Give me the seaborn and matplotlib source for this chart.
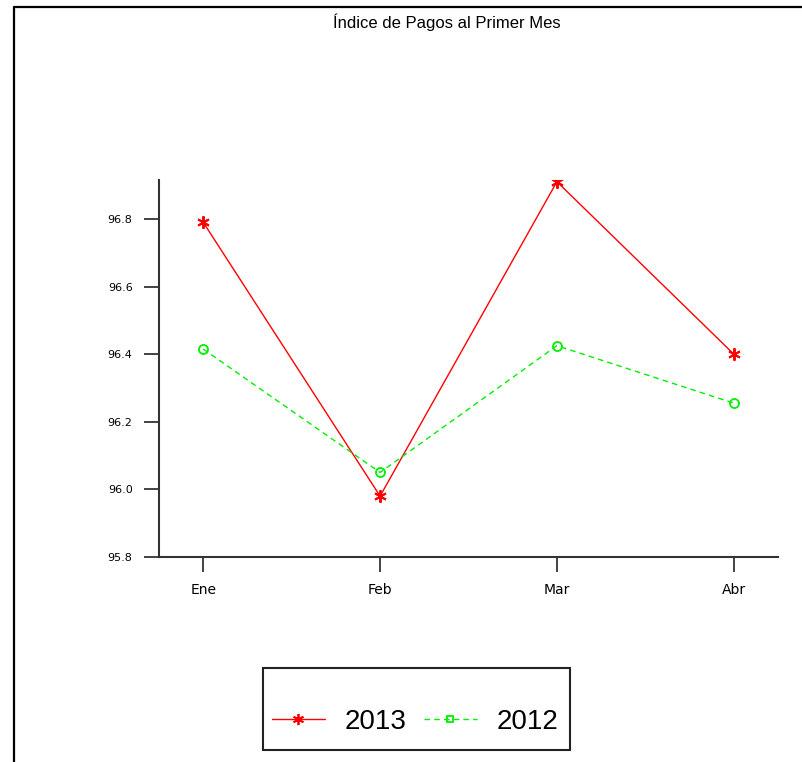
import pandas as pd
import matplotlib.pyplot as plt
import seaborn as sns
from matplotlib.patches import Rectangle
from matplotlib.lines import Line2D

meses = ['Ene', 'Feb', 'Mar', 'Abr']
indice_2013 = [96.79, 95.98, 96.91, 96.40]
indice_2012 = [96.415, 96.05, 96.425, 96.255]
yticks = [95.8, 96.0, 96.2, 96.4, 96.6, 96.8]

df = pd.DataFrame({
    'x': list(range(len(meses))) * 2,
    'indice': indice_2013 + indice_2012,
    'anio': ['2013'] * 4 + ['2012'] * 4,
})

sns.set_style('white')
plt.rcParams['font.family'] = ['DejaVu Sans']
plt.rcParams['text.color'] = 'black'

fig = plt.figure(figsize=(8.03, 7.62), dpi=100)
ax = fig.add_axes([159 / 803, 1 - 557 / 762, (778 - 159) / 803, (557 - 180) / 762])

rojo, verde = '#ff0000', '#00ee00'
sns.lineplot(data=df[df['anio'] == '2013'], x='x', y='indice', color=rojo,
             marker=(6, 2, 0), markersize=9, markeredgecolor=rojo,
             markeredgewidth=1.4, linewidth=1, ax=ax)
sns.lineplot(data=df[df['anio'] == '2012'], x='x', y='indice', color=verde,
             marker='o', markersize=6.5, markerfacecolor='none', markeredgecolor=verde,
             markeredgewidth=1.3, linewidth=1, linestyle=(0, (4, 3)), ax=ax)

ax.set_xlim(-0.25, 3.25)
ax.set_ylim(95.8, 96.915)
ax.set_xticks(range(len(meses)))
ax.set_xticklabels(meses, fontsize=10)
ax.set_yticks(yticks)
ax.set_yticklabels([f'{v:.1f}' for v in yticks], fontsize=8)
ax.set_xlabel('')
ax.set_ylabel('')
ax.tick_params(direction='out', length=11, width=1.2, color='#222222',
               labelcolor='black', left=True, bottom=True, pad=8)
sns.despine(ax=ax)
for s in ['left', 'bottom']:
    ax.spines[s].set_color('#333333')
    ax.spines[s].set_linewidth(1.5)

fig.text(447 / 803, 1 - 22 / 762, 'Índice de Pagos al Primer Mes',
         ha='center', va='center', fontsize=12, family='Liberation Sans', color='black')

# outer border (top and left only)
fig.add_artist(Line2D([14 / 803, 14 / 803], [0, 1 - 7 / 762],
                      transform=fig.transFigure, color='black', lw=1.6))
fig.add_artist(Line2D([14 / 803, 1], [1 - 7 / 762, 1 - 7 / 762],
                      transform=fig.transFigure, color='black', lw=1.6))

# legend box
fig.add_artist(Rectangle((263 / 803, 1 - 750 / 762), (570 - 263) / 803, (750 - 668) / 762,
                         transform=fig.transFigure, fill=False, ec='#222222', lw=1.5))
handles = [Line2D([], [], color=rojo, lw=1, marker=(6, 2, 0), markersize=8,
                  markeredgewidth=1.3),
           Line2D([], [], color=verde, lw=1, ls=(0, (4, 3)), marker='s', markersize=5,
                  markerfacecolor='none', markeredgewidth=1.3)]
fig.legend(handles, ['2013', '2012'], ncol=2, frameon=False,
           prop={'family': 'Liberation Sans', 'size': 20},
           loc='center', bbox_to_anchor=(415 / 803, 1 - 722 / 762),
           handlelength=1.9, handletextpad=0.7, columnspacing=0.65)

fig.savefig('out.png', dpi=100)
